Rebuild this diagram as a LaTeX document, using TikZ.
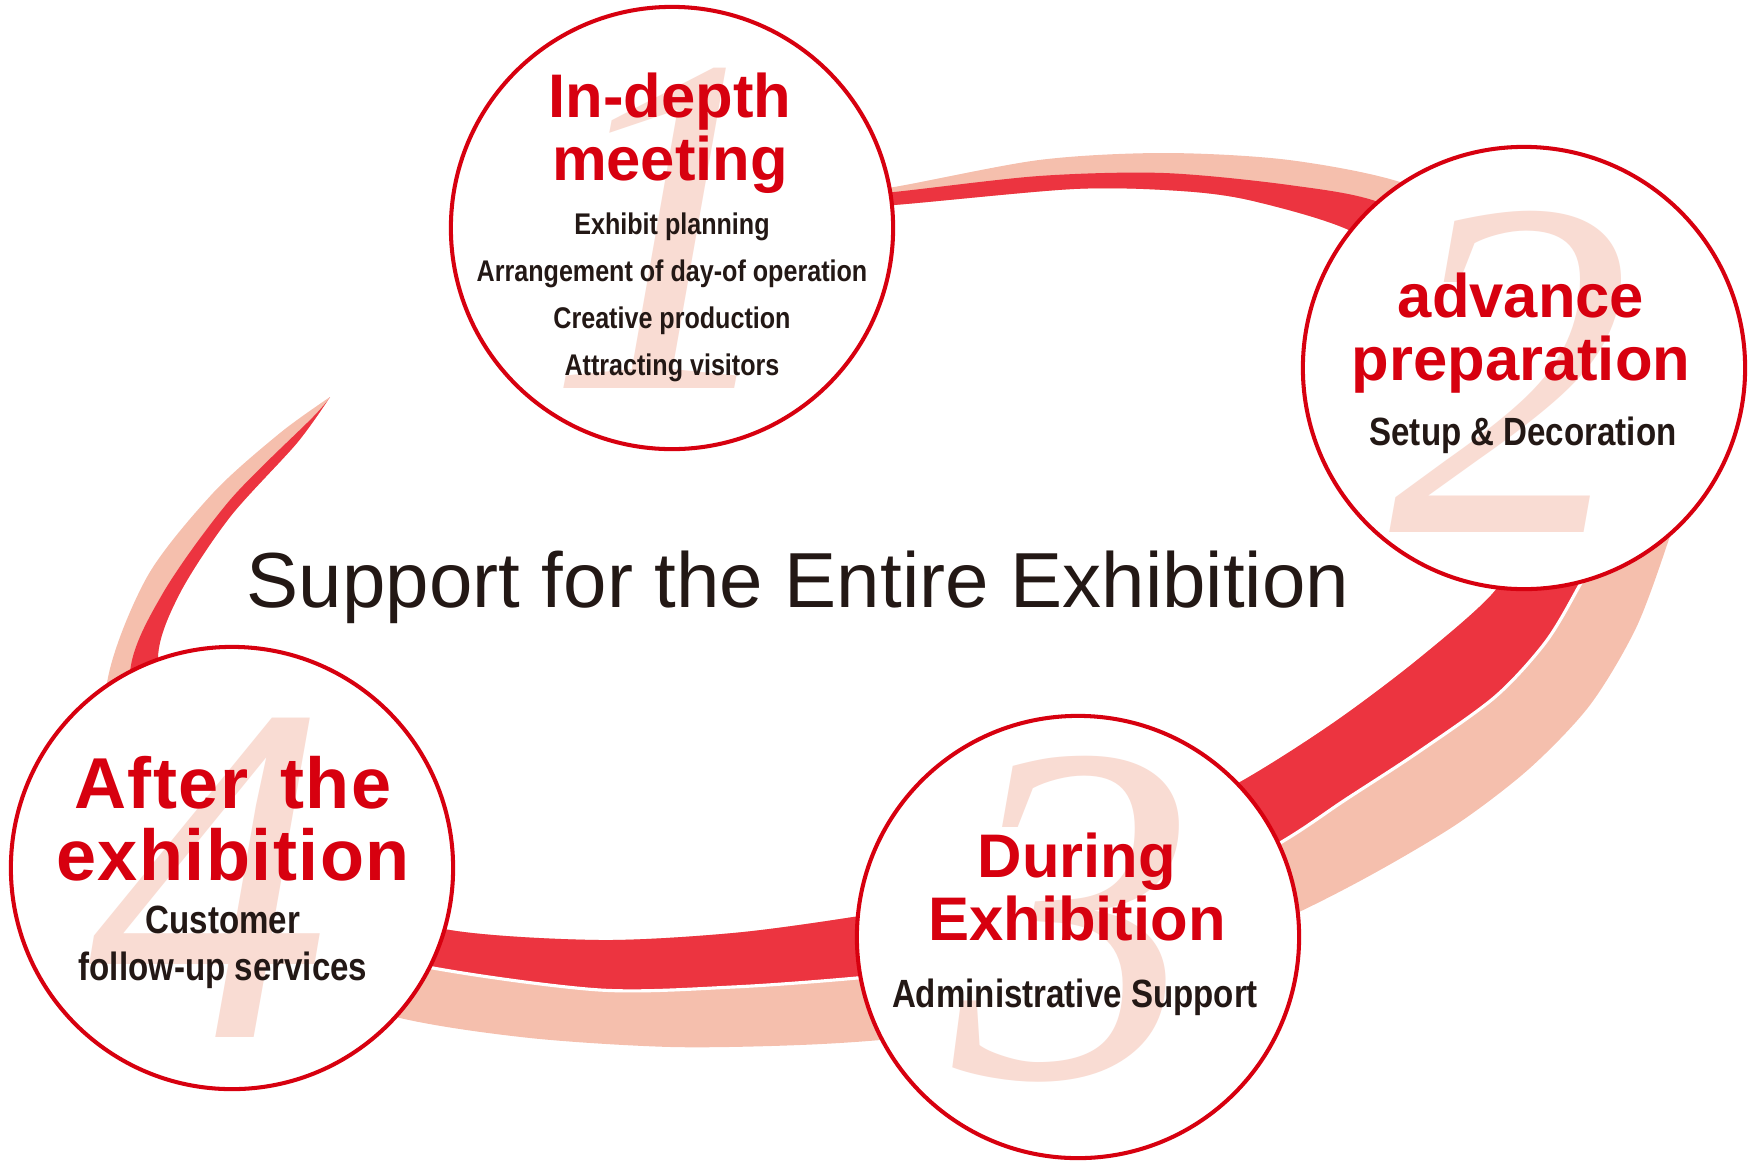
\documentclass[tikz,border=0pt]{standalone}
\usepackage{fontspec}
\setmainfont{Liberation Sans}
\newfontfamily\subfont[FakeStretch=0.84]{Liberation Sans}
\newfontfamily\widefont[LetterSpace=2,WordSpace=1.5]{Liberation Sans}
\newfontfamily\numfont{Liberation Serif}
\usepackage{xcolor}
\definecolor{stagered}{HTML}{D7000F}
\definecolor{bandred}{HTML}{EC3440}
\definecolor{bandpink}{HTML}{F5BFAD}
\definecolor{numpink}{HTML}{F9DCD3}
\definecolor{textdark}{HTML}{231815}
\tikzset{
  stage/.style={circle,draw=stagered,line width=1.15pt,fill=white,minimum size=4.42cm,inner sep=0pt},
  head/.style={anchor=base,inner sep=0pt,text=stagered,font=\bfseries\fontsize{17.5}{21}\selectfont},
  widehead/.style={head,font=\widefont\bfseries\fontsize{20.5}{25}\selectfont},
  sub/.style={anchor=base,inner sep=0pt,text=textdark,font=\subfont\bfseries\fontsize{11.2}{13}\selectfont},
  smallsub/.style={sub,font=\subfont\bfseries\fontsize{8.5}{10}\selectfont},
  num/.style={anchor=base,inner sep=0pt,text=numpink,font=\numfont\itshape\fontsize{138}{138}\selectfont}
}

\begin{document}
\begin{tikzpicture}[x=0.01cm,y=-0.01cm]
\useasboundingbox (0,0) rectangle (1754,1166);
\fill[bandpink] plot[smooth] coordinates {(820,196) (894,187) (1039,160) (1164,153) (1289,160) (1406,184) (1500,235) (1600,320) (1665,420) (1683,490) (1668,542) (1636,628) (1590,705) (1530,768) (1460,822) (1380,870) (1297,913) (1150,980) (1000,1022) (900,1038) (800,1045) (671,1047) (530,1038) (400,1018) (260,975) (160,900) (112,800) (107,683) (147,577) (213,493) (280,433) (330,397)}
  -- plot[smooth] coordinates {(330,397) (297,443) (230,517) (180,593) (158,657) (175,740) (230,830) (330,895) (450,930) (600,940) (733,933) (853,917) (980,895) (1110,850) (1240,782) (1333,723) (1417,660) (1493,593) (1520,540) (1522,460) (1490,370) (1430,290) (1353,232) (1253,201) (1181,191) (1074,189) (894,205) (820,208)} -- cycle;
\fill[bandred] plot[smooth] coordinates {(820,198) (894,192) (1039,176) (1164,173) (1289,185) (1381,203) (1470,255) (1555,345) (1605,450) (1607,530) (1577,590) (1545,643) (1495,697) (1417,753) (1345,800) (1280,843) (1150,915) (1000,963) (857,978) (733,987) (600,990) (433,968) (300,935) (200,870) (150,780) (130,673) (163,593) (230,500) (313,417) (330,397)}
  -- plot[smooth] coordinates {(330,397) (297,443) (230,517) (180,593) (158,657) (175,740) (230,830) (330,895) (450,930) (600,940) (733,933) (853,917) (980,895) (1110,850) (1240,782) (1333,723) (1417,660) (1493,593) (1520,540) (1522,460) (1490,370) (1430,290) (1353,232) (1253,201) (1181,191) (1074,189) (894,205) (820,208)} -- cycle;
\draw[white,line width=0.9pt] plot[smooth] coordinates {(1605,450) (1607,530) (1577,590) (1545,643) (1495,697) (1417,753) (1345,800) (1280,843) (1150,915) (1000,963) (857,978) (733,987) (600,990) (433,968) (300,935) (200,870)};
\foreach \n/\x/\y in {meet/672/228,prep/1524/368,during/1078/937,after/232/868} {\node[stage] (\n) at (\x,\y) {};}
\foreach \d/\x/\y in {1/668/388,2/1511/532,3/1075/1077,4/210/1037} {\node[num] (num\d) at (\x,\y) {\d};}
\node[anchor=base,inner sep=0pt,text=textdark,font=\fontsize{22.2}{26}\selectfont] (title) at (798,607) {Support for the Entire Exhibition};
\node[head] (meetA) at (670,117) {In-depth};
\node[head] (meetB) at (670,180) {meeting};
\foreach \t [count=\i] in {Exhibit planning,Arrangement of day-of operation,Creative production,Attracting visitors} {\node[smallsub] (item\i) at (672,{187+47*\i}) {\t};}
\node[head] (prepA) at (1521,317) {advance};
\node[head] (prepB) at (1521,380) {preparation};
\node[sub] (prepC) at (1523,445) {Setup \& Decoration};
\node[head] (duringA) at (1077,877) {During};
\node[head] (duringB) at (1077,940) {Exhibition};
\node[sub] (duringC) at (1075,1007) {Administrative Support};
\node[widehead] (afterA) at (233,808) {After the};
\node[widehead] (afterB) at (233,880) {exhibition};
\node[sub] (afterC) at (223,933) {Customer};
\node[sub] (afterD) at (223,980) {follow-up services};
\end{tikzpicture}
\end{document}
